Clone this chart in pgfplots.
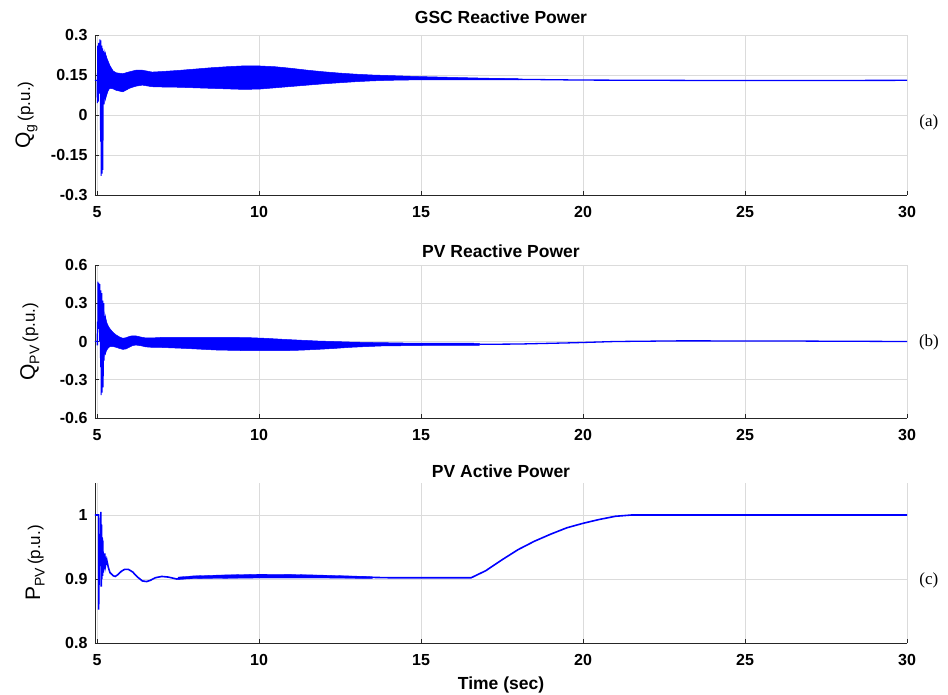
\documentclass[border=0pt]{standalone}
\usepackage{pgfplots}
\pgfplotsset{compat=1.18}
\usepackage{fontspec}
\setmainfont{Liberation Sans}
\newfontfamily\seriffont{Liberation Serif}

\definecolor{trace}{RGB}{0,0,255}

% y-axis label: large symbol, lowered subscript, smaller unit
\newcommand{\qlabel}[2]{{\fontsize{21}{24}\selectfont #1}\raisebox{-4.5pt}{\fontsize{14}{16}\selectfont #2}\hspace{3pt}{\fontsize{17}{19}\selectfont (p.u.)}}

\tikzset{tag/.style={font=\seriffont\fontsize{17}{19}\selectfont}}

\pgfplotsset{
  panel/.style={
    scale only axis, width=812pt, clip mode=individual,
    xmin=4.938, xmax=30, xtick={5,10,15,20,25,30},
    axis x line*=bottom, axis y line*=left,
    axis line style={draw=black!85, line width=0.8pt, -},
    grid=major, major grid style={draw=black!14, line width=0.6pt},
    tick align=inside, major tick length=4pt,
    tick style={draw=black!85, line width=0.7pt},
    ticklabel style={font=\bfseries\fontsize{16}{18}\selectfont},
    /pgf/number format/assume math mode=true,
    xticklabel shift=8pt, yticklabel shift=4pt,
    title style={font=\bfseries\fontsize{17.5}{20}\selectfont, anchor=base,
                 at={(axis description cs:0.5,1)}},
    ylabel style={anchor=base},
  },
  % oscillation envelope: upper edge left to right, then lower edge right to left
  band/.style={draw=trace, fill=trace, line width=0.5pt},
}

\begin{document}
\begin{tikzpicture}
\useasboundingbox (-95pt,-51pt) rectangle (853pt,643pt);

% ---------------- (a) GSC reactive power ----------------
\begin{axis}[panel, at={(0pt,448pt)}, anchor=south west, height=160pt,
  ymin=-0.3, ymax=0.3, ytick={-0.3,-0.15,0,0.15,0.3},
  yticklabels={-0.3,-0.15,0,0.15,0.3},
  title={GSC Reactive Power}, title style={yshift=5pt},
  ylabel={\qlabel{Q}{g}},
  ylabel style={at={(axis description cs:-0.0800,0.5)}}]
\addplot[band] table {
t v
5.24 0.240
5.30 0.215
5.35 0.200
5.40 0.185
5.50 0.165
5.60 0.158
5.80 0.155
6.00 0.162
6.20 0.168
6.40 0.168
6.70 0.161
7.00 0.163
7.50 0.167
8.00 0.172
8.50 0.177
9.00 0.181
9.50 0.184
10.00 0.184
10.50 0.181
11.00 0.175
11.50 0.168
12.00 0.162
12.50 0.157
13.00 0.153
13.50 0.150
14.00 0.148
14.50 0.146
15.00 0.144
16.00 0.141
17.00 0.138
18.00 0.136
18.00 0.132
17.00 0.132
16.00 0.132
15.00 0.132
14.50 0.131
14.00 0.130
13.50 0.128
13.00 0.125
12.50 0.121
12.00 0.117
11.50 0.112
11.00 0.107
10.50 0.102
10.00 0.097
9.50 0.096
9.00 0.098
8.50 0.100
8.00 0.102
7.50 0.104
7.00 0.105
6.70 0.106
6.40 0.112
6.20 0.108
6.00 0.100
5.80 0.087
5.60 0.092
5.50 0.098
5.40 0.100
5.35 0.094
5.30 0.075
5.24 0.050
} -- cycle;
% start-up transient and settled value
\addplot[trace, line width=1pt] table {
t v
4.938 0.130
5.000 0.130
5.010 0.045
5.020 0.260
5.040 0.050
5.050 0.270
5.070 0.080
5.090 0.284
5.110 -0.100
5.120 0.280
5.130 -0.228
5.150 0.260
5.160 -0.220
5.170 0.250
5.180 -0.206
5.200 0.240
5.220 0.040
5.240 0.235
5.260 0.060
5.280 0.220
5.300 0.080
5.320 0.205
5.340 0.090
};
\addplot[trace, line width=1.3pt] table {
t v
17.0 0.135
20.0 0.131
25.0 0.129
30.0 0.130
};
\node[tag] at (axis description cs:1.027,0.456) {(a)};
\end{axis}

% ---------------- (b) PV reactive power ----------------
\begin{axis}[panel, at={(0pt,225pt)}, anchor=south west, height=153pt,
  ymin=-0.6, ymax=0.6, ytick={-0.6,-0.3,0,0.3,0.6},
  yticklabels={-0.6,-0.3,0,0.3,0.6},
  title={PV Reactive Power}, title style={yshift=1pt},
  ylabel={\qlabel{Q}{PV}},
  ylabel style={at={(axis description cs:-0.0739,0.5)}}]
\addplot[band] table {
t v
5.24 0.220
5.30 0.150
5.35 0.120
5.40 0.100
5.50 0.070
5.60 0.050
5.70 0.035
5.80 0.025
5.90 0.030
6.00 0.040
6.10 0.045
6.20 0.044
6.35 0.035
6.50 0.028
6.70 0.028
7.00 0.032
8.00 0.033
9.00 0.033
9.70 0.030
10.20 0.025
10.75 0.017
11.30 0.010
11.80 0.004
12.30 0.000
12.80 -0.004
13.30 -0.007
13.80 -0.009
14.50 -0.012
15.50 -0.012
16.80 -0.014
16.80 -0.030
15.50 -0.030
14.50 -0.033
13.80 -0.035
13.30 -0.040
12.80 -0.046
12.30 -0.055
11.80 -0.062
11.30 -0.068
10.75 -0.072
9.70 -0.072
8.70 -0.067
7.70 -0.054
7.00 -0.047
6.70 -0.046
6.50 -0.042
6.35 -0.033
6.20 -0.028
6.10 -0.032
6.00 -0.045
5.90 -0.058
5.80 -0.062
5.70 -0.055
5.60 -0.046
5.50 -0.040
5.40 -0.040
5.35 -0.050
5.30 -0.067
5.24 -0.110
} -- cycle;
\addplot[trace, line width=1pt] table {
t v
4.938 0.000
5.000 0.000
5.005 -0.030
5.010 0.156
5.020 -0.030
5.030 0.470
5.050 0.100
5.060 0.460
5.080 0.000
5.090 0.450
5.110 -0.200
5.120 0.400
5.130 -0.420
5.150 0.380
5.160 -0.400
5.180 0.320
5.190 -0.360
5.210 0.300
5.220 -0.150
5.240 0.200
5.260 -0.100
5.280 0.150
5.300 -0.070
};
\addplot[trace, line width=1.3pt] table {
t v
16.8 -0.022
18.0 -0.020
19.7 -0.010
21.0 0.000
23.0 0.005
26.0 0.004
28.0 0.002
30.0 0.000
};
\node[tag] at (axis description cs:1.027,0.497) {(b)};
\end{axis}

% ---------------- (c) PV active power ----------------
\begin{axis}[panel, at={(0pt,0pt)}, anchor=south west, height=160pt,
  ymin=0.8, ymax=1.05, ytick={0.8,0.9,1},
  yticklabels={0.8,0.9,1},
  title={PV Active Power}, title style={yshift=0pt},
  ylabel={\qlabel{P}{PV}},
  ylabel style={at={(axis description cs:-0.0677,0.5)}},
  xlabel={Time (sec)},
  xlabel style={font=\bfseries\fontsize{17.5}{20}\selectfont, anchor=base,
                at={(axis description cs:0.5,0)}, yshift=-46pt}]
\addplot[band, line width=0.3pt] table {
t v
7.50 0.9030
8.00 0.9050
9.00 0.9065
10.00 0.9075
11.00 0.9072
12.00 0.9060
13.00 0.9045
13.50 0.9035
13.50 0.9010
13.00 0.9010
12.00 0.9015
11.00 0.9015
10.00 0.9015
9.00 0.9010
8.00 0.9005
7.50 0.8995
} -- cycle;
\addplot[trace, line width=1.6pt] table {
t v
4.938 1.000
5.050 1.000
5.050 0.852
5.070 0.930
5.090 0.920
5.100 0.940
5.120 1.005
5.130 0.888
5.140 0.985
5.150 0.900
5.160 0.965
5.170 0.905
5.180 0.960
5.190 0.910
5.200 0.935
5.220 0.915
5.240 0.940
5.260 0.920
5.300 0.930
5.350 0.918
5.400 0.910
5.500 0.905
5.560 0.904
5.650 0.907
5.750 0.912
5.850 0.915
5.970 0.915
6.100 0.911
6.250 0.903
6.400 0.897
6.530 0.896
6.650 0.898
6.800 0.902
7.000 0.904
7.200 0.903
7.460 0.900
7.700 0.901
8.000 0.903
9.000 0.904
10.000 0.905
11.000 0.905
12.000 0.904
13.000 0.903
14.000 0.902
15.000 0.902
16.550 0.902
17.000 0.913
17.500 0.930
18.000 0.946
18.500 0.959
19.000 0.970
19.500 0.980
20.000 0.987
20.500 0.993
21.000 0.998
21.500 1.000
30.000 1.000
};
\node[tag] at (axis description cs:1.027,0.394) {(c)};
\end{axis}
\end{tikzpicture}
\end{document}
